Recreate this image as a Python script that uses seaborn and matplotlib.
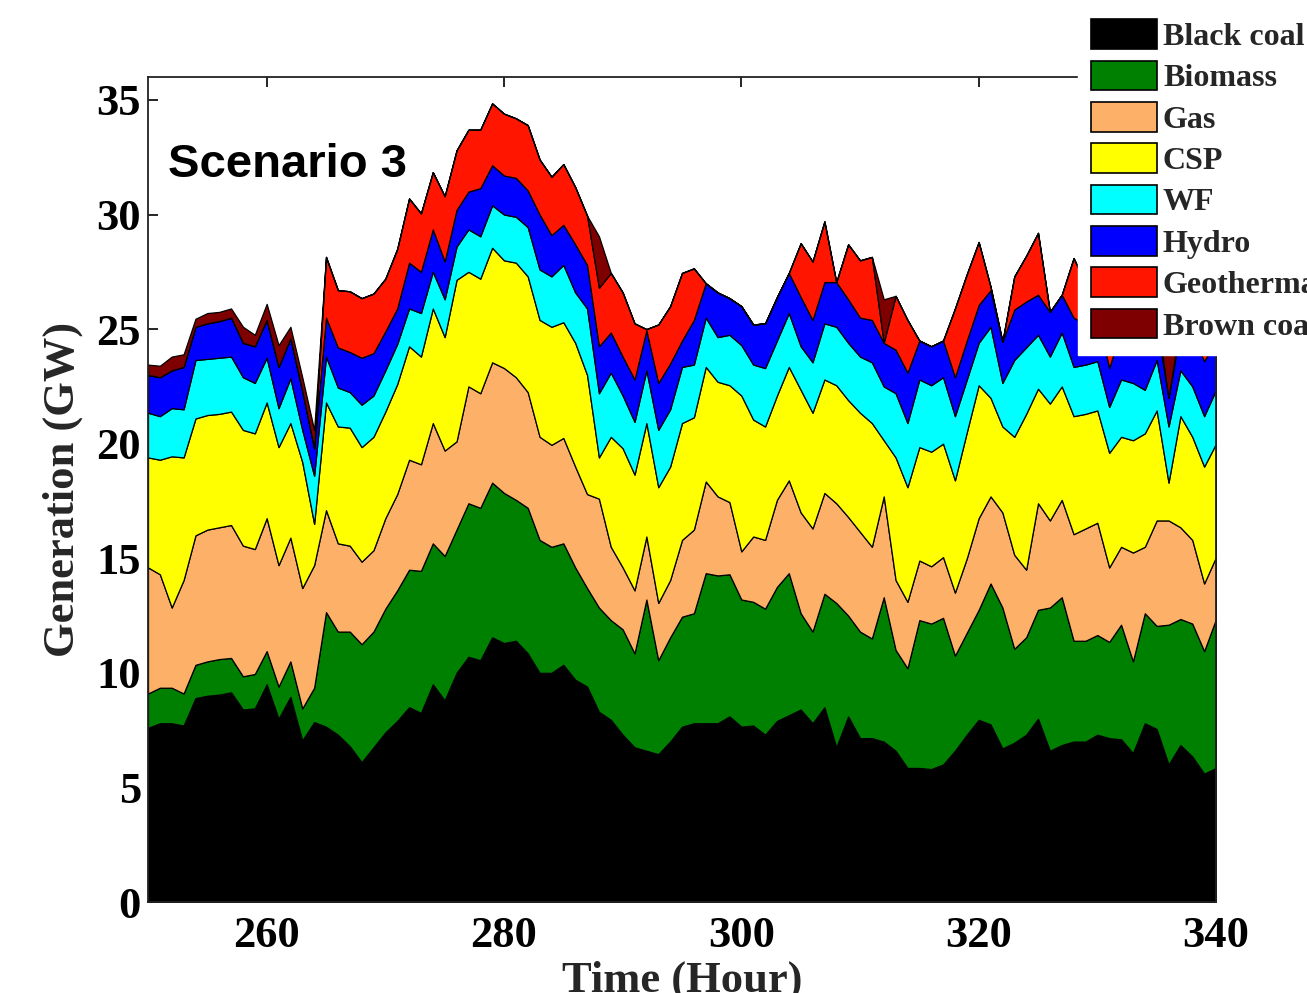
import numpy as np
import matplotlib
matplotlib.use("Agg")
import matplotlib.pyplot as plt
import seaborn as sns
from matplotlib.patches import Patch

# ---------------- data (cumulative upper boundary of each layer, GW) ----------------
hours = list(range(250, 341))

top_black_coal = [
    7.6, 7.8, 7.8, 7.7, 8.9, 9.0, 9.05, 9.15, 8.4, 8.45, 9.5, 8.0, 8.95, 7.05, 7.85,
    7.65, 7.3, 6.8, 6.1, 6.75, 7.4, 7.9, 8.5, 8.25, 9.5, 8.8, 10.0, 10.7, 10.55, 11.55,
    11.3, 11.4, 10.85, 10.0, 10.0, 10.35, 9.7, 9.4, 8.3, 7.95, 7.3, 6.75, 6.6, 6.45, 7.0,
    7.65, 7.8, 7.8, 7.8, 8.1, 7.65, 7.7, 7.3, 7.9, 8.15, 8.4, 7.8, 8.5, 6.75, 8.1,
    7.15, 7.15, 7.0, 6.6, 5.85, 5.85, 5.8, 6.0, 6.6, 7.3, 7.95, 7.75, 6.7, 6.95, 7.3,
    8.0, 6.6, 6.85, 7.0, 7.0, 7.3, 7.15, 7.1, 6.5, 7.8, 7.55, 6.0, 6.85, 6.35, 5.6, 5.85]

top_biomass = [
    9.1, 9.35, 9.35, 9.1, 10.35, 10.5, 10.6, 10.65, 9.85, 9.95, 10.95, 9.4, 10.5, 8.45, 9.35,
    12.65, 11.8, 11.8, 11.25, 11.8, 12.8, 13.6, 14.5, 14.45, 15.65, 15.1, 16.25, 17.4, 17.2, 18.3,
    17.85, 17.55, 17.2, 15.8, 15.5, 15.65, 14.6, 13.7, 12.85, 12.3, 11.9, 10.85, 13.2, 10.55, 11.55,
    12.45, 12.6, 14.35, 14.25, 14.3, 13.2, 13.1, 12.8, 13.75, 14.35, 12.6, 11.8, 13.45, 13.05, 12.5,
    11.8, 11.5, 13.3, 11.0, 10.2, 12.3, 12.15, 12.4, 10.75, 11.75, 12.75, 13.9, 12.85, 11.05, 11.55,
    12.75, 12.85, 13.3, 11.4, 11.4, 11.65, 11.35, 12.1, 10.5, 12.6, 12.05, 12.1, 12.35, 12.15, 10.95, 12.35]

top_gas = [
    14.6, 14.3, 12.85, 14.05, 16.0, 16.25, 16.35, 16.45, 15.55, 15.4, 16.75, 14.7, 15.9, 13.7, 14.7,
    17.1, 15.65, 15.55, 14.85, 15.35, 16.75, 17.8, 19.3, 19.1, 20.9, 19.7, 20.1, 22.5, 22.2, 23.55,
    23.3, 22.9, 22.25, 20.3, 19.95, 20.25, 19.0, 17.8, 17.6, 15.5, 14.6, 13.6, 15.95, 13.05, 14.05,
    15.8, 16.25, 18.35, 17.7, 17.45, 15.3, 15.95, 15.8, 17.55, 18.4, 17.0, 16.3, 17.85, 17.4, 16.8,
    16.15, 15.5, 17.7, 14.05, 13.1, 14.9, 14.65, 15.05, 13.5, 15.0, 16.75, 17.7, 17.0, 15.15, 14.5,
    17.4, 16.65, 17.55, 16.05, 16.3, 16.55, 14.6, 15.5, 15.25, 15.5, 16.65, 16.65, 16.35, 15.8, 13.9, 15.05]

top_csp = [
    19.4, 19.3, 19.45, 19.4, 21.1, 21.25, 21.3, 21.4, 20.6, 20.45, 21.8, 19.85, 20.9, 19.2, 16.5,
    21.8, 20.75, 20.7, 19.85, 20.3, 21.4, 22.6, 24.25, 23.8, 25.9, 24.65, 27.15, 27.5, 27.2, 28.55,
    28.0, 27.9, 27.3, 25.4, 25.1, 25.3, 24.4, 23.0, 19.4, 20.3, 19.8, 18.65, 20.9, 18.1, 19.0,
    20.9, 21.15, 23.35, 22.7, 22.55, 22.1, 21.05, 20.75, 22.1, 23.35, 22.35, 21.35, 22.8, 22.55, 21.9,
    21.35, 20.9, 20.15, 19.4, 18.1, 19.85, 19.65, 20.0, 18.4, 20.5, 22.55, 22.0, 20.75, 20.3, 21.3,
    22.4, 21.75, 22.5, 21.2, 21.3, 21.45, 19.6, 20.3, 20.15, 20.45, 21.45, 18.3, 21.2, 20.3, 19.0, 20.0]

top_wf = [
    21.35, 21.2, 21.55, 21.5, 23.65, 23.7, 23.75, 23.8, 22.9, 22.65, 23.75, 21.55, 22.85, 20.6, 18.6,
    23.8, 22.45, 22.25, 21.7, 22.1, 23.2, 24.35, 25.9, 25.7, 27.5, 26.3, 28.6, 29.35, 29.05, 30.4,
    30.0, 29.9, 29.45, 27.6, 27.3, 27.8, 26.6, 25.9, 22.2, 23.1, 22.1, 20.95, 23.2, 20.6, 21.5,
    23.35, 23.45, 25.5, 24.65, 24.75, 24.3, 23.45, 23.3, 24.5, 25.7, 24.25, 23.55, 25.25, 25.1, 24.4,
    23.8, 23.55, 22.5, 22.2, 20.9, 22.8, 22.55, 22.9, 21.2, 22.8, 24.4, 25.1, 22.65, 23.65, 24.2,
    24.75, 23.8, 24.85, 23.35, 23.45, 23.6, 21.6, 22.8, 22.65, 22.35, 23.65, 20.75, 23.2, 22.5, 21.2, 22.35]

top_hydro = [
    23.0, 22.9, 23.2, 23.35, 25.1, 25.25, 25.35, 25.5, 24.4, 24.25, 25.4, 23.35, 24.6, 22.3, 19.8,
    25.5, 24.2, 24.0, 23.75, 23.95, 24.9, 25.9, 27.9, 27.5, 29.35, 27.95, 30.2, 31.0, 31.15, 32.15,
    31.7, 31.6, 31.05, 30.0, 29.1, 29.55, 28.7, 27.8, 24.25, 24.85, 23.8, 22.8, 24.95, 22.65, 23.5,
    24.5, 25.4, 27.0, 26.6, 26.35, 26.0, 25.2, 25.25, 26.4, 27.45, 26.4, 25.4, 27.05, 27.05, 26.3,
    25.5, 25.4, 24.4, 24.1, 23.1, 24.5, 24.25, 24.5, 22.9, 24.5, 26.05, 26.7, 24.45, 25.85, 26.2,
    26.5, 25.75, 26.5, 25.5, 25.2, 25.6, 23.3, 25.0, 24.8, 24.6, 25.2, 22.0, 25.0, 24.8, 23.6, 24.5]

top_geothermal = [
    23.0, 22.9, 23.2, 23.35, 25.1, 25.25, 25.35, 25.5, 24.4, 24.25, 25.4, 23.35, 24.6, 22.3, 19.8,
    28.15, 26.7, 26.65, 26.35, 26.55, 27.2, 28.5, 30.7, 30.05, 31.85, 30.8, 32.8, 33.7, 33.7, 34.85,
    34.4, 34.2, 33.9, 32.4, 31.65, 32.2, 31.2, 29.95, 26.8, 27.45, 26.6, 25.25, 25.0, 25.2, 26.0,
    27.45, 27.65, 27.0, 26.6, 26.35, 26.0, 25.2, 25.25, 26.4, 27.45, 28.75, 27.95, 29.7, 27.05, 28.7,
    28.0, 28.15, 24.4, 26.45, 25.4, 24.5, 24.25, 24.5, 25.9, 27.4, 28.8, 26.85, 24.45, 27.3, 28.2,
    29.2, 25.75, 26.5, 28.1, 27.0, 26.5, 26.0, 25.8, 25.5, 25.3, 25.6, 22.0, 25.3, 25.5, 25.0, 24.5]

top_brown_coal = [
    23.45, 23.4, 23.8, 23.9, 25.45, 25.7, 25.75, 25.9, 25.1, 24.75, 26.1, 24.3, 25.1, 22.9, 20.6,
    28.15, 26.7, 26.65, 26.35, 26.55, 27.2, 28.5, 30.7, 30.05, 31.85, 30.8, 32.8, 33.7, 33.7, 34.85,
    34.4, 34.2, 33.9, 32.4, 31.65, 32.2, 31.2, 29.95, 29.05, 27.45, 26.6, 25.25, 25.0, 25.2, 26.0,
    27.45, 27.65, 27.0, 26.6, 26.35, 26.0, 25.2, 25.25, 26.4, 27.45, 28.75, 27.95, 29.7, 27.05, 28.7,
    28.0, 28.15, 26.3, 26.45, 25.4, 24.5, 24.25, 24.5, 25.9, 27.4, 28.8, 26.85, 24.45, 27.3, 28.2,
    29.2, 25.75, 26.5, 28.1, 27.0, 26.5, 26.0, 25.8, 25.5, 25.3, 25.6, 24.5, 25.3, 25.5, 25.0, 24.5]

sources = ["Black coal", "Biomass", "Gas", "CSP", "WF", "Hydro", "Geothermal", "Brown coal"]
colors = ["#000000", "#008000", "#FDB068", "#FFFF00", "#00FFFF", "#0000FF", "#FF1500", "#7F0000"]

x_ticks = [260, 280, 300, 320, 340]
y_ticks = [0, 5, 10, 15, 20, 25, 30, 35]

# per-source generation = difference between consecutive boundaries
tops = np.array([top_black_coal, top_biomass, top_gas, top_csp, top_wf,
                 top_hydro, top_geothermal, top_brown_coal])
layers = np.diff(np.vstack([np.zeros(len(hours)), tops]), axis=0)
layers = np.clip(layers, 0, None)

# ---------------- style ----------------
sns.set_style("ticks")
plt.rcParams["font.family"] = ["Liberation Serif", "DejaVu Serif"]
plt.rcParams["font.weight"] = "bold"

W, H = 1307, 993
fig = plt.figure(figsize=(W / 100, H / 100), dpi=100)
ax = fig.add_axes([148 / W, 1 - 902 / H, (1216 - 148) / W, (902 - 77) / H])

ax.stackplot(hours, layers, colors=colors, edgecolor="black", linewidth=0.9)

ax.set_xlim(250, 340)
ax.set_ylim(0, 36)
ax.set_xticks(x_ticks)
ax.set_yticks(y_ticks)
ax.tick_params(axis="both", direction="in", length=7, width=1.2, labelsize=32,
               top=True, right=True, colors="black")
ax.tick_params(axis="x", pad=10)
ax.tick_params(axis="y", pad=5)
for lab in ax.get_xticklabels() + ax.get_yticklabels():
    lab.set_fontweight("bold")
for sp in ax.spines.values():
    sp.set_visible(True)
    sp.set_linewidth(1.3)
    sp.set_color("#222222")

ax.set_xlabel("Time (Hour)", fontsize=32, fontweight="bold")
ax.set_ylabel("Generation (GW)", fontsize=32, fontweight="bold")
ax.xaxis.set_label_coords(0.5, -0.071)
ax.yaxis.set_label_coords(-0.061, 0.5)

ax.text(0.0187, 0.879, "Scenario 3", transform=ax.transAxes, fontsize=34,
        fontweight="bold", family=["Liberation Sans", "DejaVu Sans"],
        ha="left", va="baseline", color="black")

handles = [Patch(facecolor=c, edgecolor="black", linewidth=1.2) for c in colors]
leg = fig.legend(handles, sources, loc="upper left",
                 bbox_to_anchor=(1078 / W, 1 - 6 / H), bbox_transform=fig.transFigure,
                 prop={"family": ["Liberation Serif"], "weight": "bold", "size": 23},
                 handlelength=2.06, handleheight=1.05, handletextpad=0.18,
                 labelspacing=0.27, borderpad=0.42, borderaxespad=0,
                 frameon=True, fancybox=False, framealpha=1)
leg.get_frame().set_facecolor("white")
leg.get_frame().set_edgecolor("white")

fig.savefig("out.png", dpi=100)
